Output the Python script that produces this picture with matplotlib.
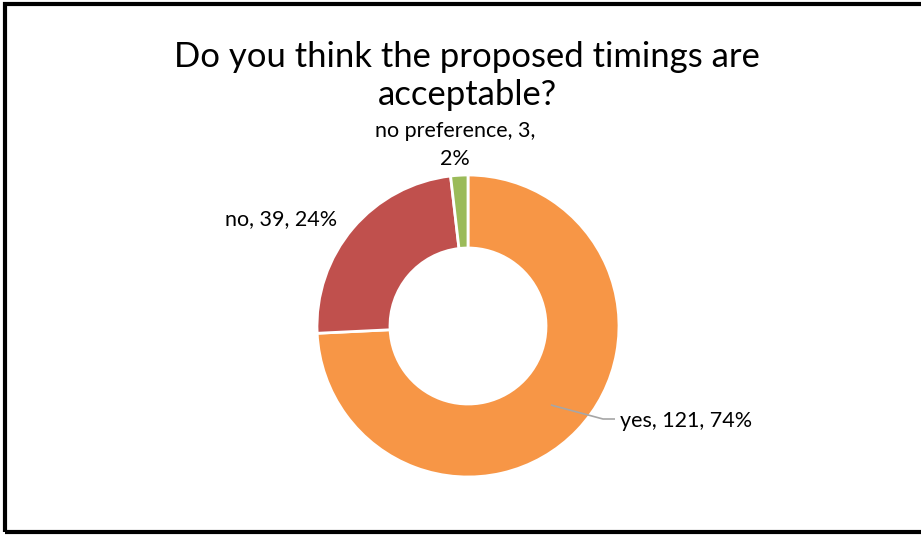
import numpy as np
import matplotlib.pyplot as plt
from matplotlib.patches import Rectangle

plt.rcParams['font.family'] = ['Lato', 'DejaVu Sans']

answers = ["yes", "no", "no preference"]
counts = [121, 39, 3]
colors = ["#F79646", "#C0504D", "#9BBB59"]

W, H = 921, 535
fig = plt.figure(figsize=(W / 100, H / 100), dpi=100)
ax = fig.add_axes([0, 0, 1, 1])

cx, cy = 468, H - 326
r_out, ring = 151, 73

wedges, _ = ax.pie(counts, colors=colors, startangle=90, counterclock=False,
                   center=(cx, cy), radius=r_out,
                   wedgeprops=dict(width=ring, edgecolor="white", linewidth=2))
ax.set_xlim(0, W)
ax.set_ylim(0, H)
ax.set_aspect("equal")
ax.axis("off")

total = sum(counts)
labels = [f"{a}, {c}, {round(100 * c / total)}%" for a, c in zip(answers, counts)]
labels[2] = labels[2].replace(", 2%", ",\n2%")

# label positions (pixels from the top-left)
label_pos = [(620, 421, "left"), (281, 219, "center"), (455, 145, "center")]
for lab, (lx, ly, ha) in zip(labels, label_pos):
    ax.text(lx, H - ly, lab, ha=ha, va="center", fontsize=15.5,
            color="#000000", linespacing=1.45)

# leader line for the big slice
w = wedges[0]
mid = np.radians((w.theta1 + w.theta2) / 2)
r_mid = r_out - ring / 2
x0, y0 = cx + r_mid * np.cos(mid), cy + r_mid * np.sin(mid)
ax.plot([x0, 603, 615], [y0, H - 419, H - 419], color="#A6A6A6", lw=1.2,
        solid_capstyle="butt")

fig.text(467 / W, 1 - 105 / H, "Do you think the proposed timings are\nacceptable?",
         ha="center", va="baseline", fontsize=24.9, linespacing=1.22)

# outer frame
fig.add_artist(Rectangle((4.5 / W, 3 / H), 1.1, (H - 7) / H,
                         transform=fig.transFigure, fill=False,
                         edgecolor="black", linewidth=3))

fig.savefig("out.png", dpi=100)
